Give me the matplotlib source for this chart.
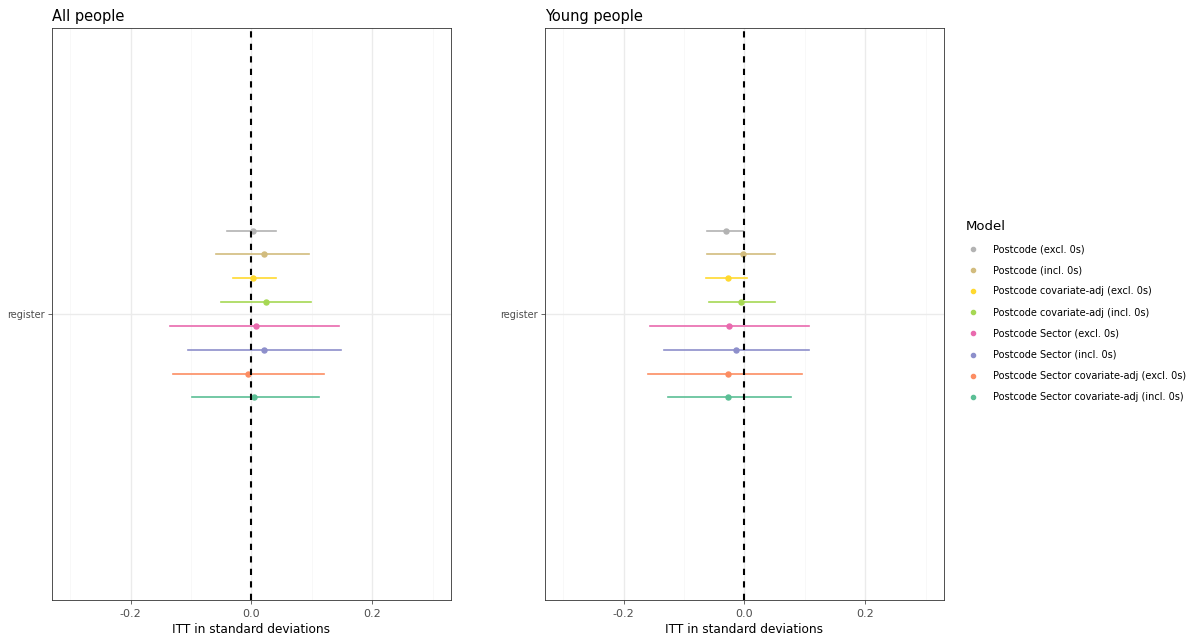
import numpy as np
import matplotlib.pyplot as plt
from matplotlib.lines import Line2D

models = ['Postcode (excl. 0s)', 'Postcode (incl. 0s)',
          'Postcode covariate-adj (excl. 0s)', 'Postcode covariate-adj (incl. 0s)',
          'Postcode Sector (excl. 0s)', 'Postcode Sector (incl. 0s)',
          'Postcode Sector covariate-adj (excl. 0s)', 'Postcode Sector covariate-adj (incl. 0s)']
colours = ['#B3B3B3', '#D2BC7E', '#FFD92F', '#A6D854',
           '#E96AAE', '#8D8FCB', '#FC8D62', '#5BBF95']

# all people
all_est = [0.002, 0.020, 0.002, 0.024, 0.007, 0.020, -0.006, 0.005]
all_lo = [-0.040, -0.058, -0.031, -0.050, -0.135, -0.105, -0.130, -0.099]
all_hi = [0.041, 0.095, 0.041, 0.099, 0.145, 0.148, 0.120, 0.112]

# young people
young_est = [-0.031, -0.002, -0.028, -0.005, -0.026, -0.014, -0.027, -0.027]
young_lo = [-0.062, -0.062, -0.064, -0.059, -0.156, -0.133, -0.159, -0.126]
young_hi = [-0.003, 0.051, 0.005, 0.051, 0.107, 0.107, 0.095, 0.077]

outcome = 'register'

fig = plt.figure(figsize=(11.92, 6.36), dpi=100)
ax1 = fig.add_axes([0.0436, 0.0566, 0.3347, 0.8994])
ax2 = fig.add_axes([0.4572, 0.0566, 0.3347, 0.8994])

n = len(models)
offs = 0.175 - 0.05 * np.arange(n)

for ax, title, est, lo, hi in [(ax1, 'All people', all_est, all_lo, all_hi),
                               (ax2, 'Young people', young_est, young_lo, young_hi)]:
    for v in [-0.3, -0.1, 0.1, 0.3]:
        ax.axvline(v, color='#F7F7F7', lw=0.6, zorder=0)
    for v in [-0.2, 0.0, 0.2]:
        ax.axvline(v, color='#EBEBEB', lw=1.0, zorder=0)
    ax.axhline(1, color='#EBEBEB', lw=1.0, zorder=0)
    for i in range(n):
        y = 1 + offs[i]
        ax.plot([lo[i], hi[i]], [y, y], color=colours[i], lw=1.2, zorder=2)
        ax.plot(est[i], y, 'o', color=colours[i], ms=3.6, zorder=3)
    ax.axvline(0, color='black', lw=1.5, ls=(0, (3, 3)), zorder=4)
    ax.set_xlim(-0.33, 0.33)
    ax.set_ylim(0.4, 1.6)
    ax.set_yticks([1])
    ax.set_yticklabels([outcome])
    ax.set_xticks([-0.2, 0.0, 0.2])
    ax.set_xticklabels(['-0.2', '0.0', '0.2'])
    ax.tick_params(colors='#4D4D4D', length=3, width=0.6)
    ax.tick_params(axis='x', labelsize=8)
    ax.tick_params(axis='y', labelsize=7, pad=2.5)
    for s in ax.spines.values():
        s.set_color('#333333')
        s.set_linewidth(0.6)
    ax.set_xlabel('ITT in standard deviations', fontsize=8.7, labelpad=3)
    ax.set_title(title, loc='left', fontsize=10.5, pad=5)

handles = [Line2D([], [], marker='o', ls='', color=c, ms=3) for c in colours]
leg = fig.legend(handles, models, loc='upper left', bbox_to_anchor=(0.803, 0.668),
                 frameon=False, fontsize=7, title='Model', title_fontsize=9.5,
                 labelspacing=1.15, handletextpad=1.3, handlelength=1.5)
leg._legend_box.align = 'left'

fig.savefig('out.png', dpi=100)
